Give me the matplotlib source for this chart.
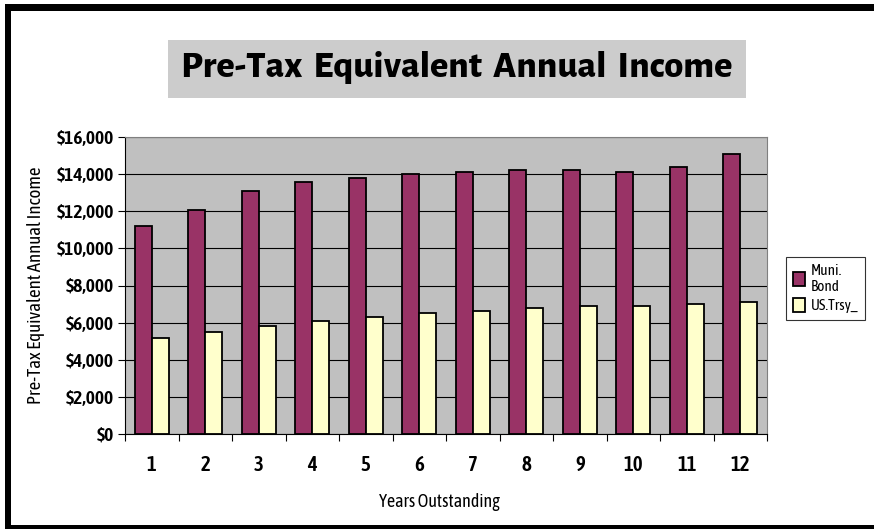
import matplotlib
matplotlib.use("Agg")
import matplotlib.pyplot as plt
from matplotlib.patches import Rectangle
import numpy as np

years = ['1', '2', '3', '4', '5', '6', '7', '8', '9', '10', '11', '12']
muni_bond = [11230, 12060, 13100, 13570, 13790, 14020, 14130, 14240, 14240, 14130, 14360, 15060]
us_trsy = [5150, 5510, 5830, 6080, 6300, 6530, 6640, 6770, 6880, 6880, 7000, 7110]
y_ticks = [0, 2000, 4000, 6000, 8000, 10000, 12000, 14000, 16000]

fnt = ['Asap Condensed', 'Roboto Condensed', 'DejaVu Sans']
title_fnt = ['Alegreya Sans', 'DejaVu Sans']

fig = plt.figure(figsize=(8.74, 5.29), dpi=100, facecolor='white', edgecolor='white', linewidth=0)
W, H = 874.0, 529.0

# black frame: left, top and bottom bands (right edge is off the picture)
for (x0, y0, bw, bh) in [(5, 0, 5.5, 525), (5, 518.5, 869, 6.5), (5, 0, 869, 4.5)]:
    fig.patches.append(Rectangle((x0 / W, y0 / H), bw / W, bh / H, transform=fig.transFigure,
                                 facecolor='black', edgecolor='none'))

# title in a grey box
fig.patches.append(Rectangle((168 / W, 431 / H), 578 / W, 58 / H, transform=fig.transFigure,
                             facecolor='#cccccc', edgecolor='none'))
fig.text(457 / W, 461 / H, 'Pre-Tax  Equivalent  Annual  Income', ha='center', va='center',
         fontsize=27.5, fontweight='heavy', family=title_fnt)

ax = fig.add_axes([125 / W, 95 / H, 642 / W, 297 / H])
ax.set_facecolor('#c0c0c0')

x = np.arange(len(years))
w = 0.32
ax.bar(x - w / 2, muni_bond, w, color='#993366', edgecolor='black', linewidth=1.3, label='Muni.\nBond', zorder=3)
ax.bar(x + w / 2, us_trsy, w, color='#ffffcc', edgecolor='black', linewidth=1.3, label='US.Trsy_', zorder=3)

ax.set_xlim(-0.5, len(years) - 0.5)
ax.set_ylim(0, 16000)
ax.set_yticks(y_ticks)
ax.set_yticklabels(['${:,}'.format(v) for v in y_ticks], fontsize=14, family=fnt, fontweight='semibold')
ax.set_xticks(x)
ax.set_xticklabels(years, fontsize=15, family=fnt, fontweight='semibold')
ax.set_xticks(np.arange(len(years) + 1) - 0.5, minor=True)
ax.tick_params(axis='x', which='major', length=0, pad=15)
ax.tick_params(axis='x', which='minor', length=5, color='black', width=0.8)
ax.tick_params(axis='y', length=5, width=0.8, pad=3)
ax.grid(axis='y', color='black', linewidth=0.8, zorder=1)

for side in ['top', 'right']:
    ax.spines[side].set_color('#808080')
    ax.spines[side].set_linewidth(0.8)
for side in ['left', 'bottom']:
    ax.spines[side].set_color('black')
    ax.spines[side].set_linewidth(0.8)

ax.set_xlabel('Years Outstanding', fontsize=13, family=fnt)
ax.xaxis.set_label_coords(0.49, -0.2)
ax.set_ylabel('Pre-Tax Equivalent Annual Income', fontsize=13.5, family=fnt)
ax.yaxis.set_label_coords(-0.125, 0.5)

leg = ax.legend(loc='center left', bbox_to_anchor=(1.03, 0.49), fancybox=False, frameon=True,
                prop={'family': fnt, 'size': 11}, handlelength=0.8, handleheight=1.0,
                handletextpad=0.35, borderpad=0.45, labelspacing=0.25, borderaxespad=0)
leg.get_frame().set_edgecolor('black')
leg.get_frame().set_linewidth(0.8)

fig.savefig('out.png', dpi=100, facecolor='white')
